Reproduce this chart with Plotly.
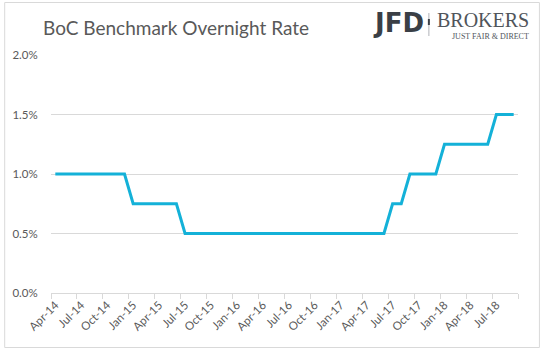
import plotly.graph_objects as go

# ---- data ----
categories = [
    "Apr-14", "May-14", "Jun-14", "Jul-14", "Aug-14", "Sep-14", "Oct-14", "Nov-14", "Dec-14",
    "Jan-15", "Feb-15", "Mar-15", "Apr-15", "May-15", "Jun-15", "Jul-15", "Aug-15", "Sep-15",
    "Oct-15", "Nov-15", "Dec-15", "Jan-16", "Feb-16", "Mar-16", "Apr-16", "May-16", "Jun-16",
    "Jul-16", "Aug-16", "Sep-16", "Oct-16", "Nov-16", "Dec-16", "Jan-17", "Feb-17", "Mar-17",
    "Apr-17", "May-17", "Jun-17", "Jul-17", "Aug-17", "Sep-17", "Oct-17", "Nov-17", "Dec-17",
    "Jan-18", "Feb-18", "Mar-18", "Apr-18", "May-18", "Jun-18", "Jul-18", "Aug-18", "Sep-18",
]

rate = (
    [1.00] * 9      # Apr-14 .. Dec-14
    + [0.75] * 6    # Jan-15 .. Jun-15
    + [0.50] * 24   # Jul-15 .. Jun-17
    + [0.75] * 2    # Jul-17 .. Aug-17
    + [1.00] * 4    # Sep-17 .. Dec-17
    + [1.25] * 6    # Jan-18 .. Jun-18
    + [1.50] * 3    # Jul-18 .. Sep-18
)
tick_labels = categories[::3]
y_ticks = [0.0, 0.5, 1.0, 1.5, 2.0]
y_tick_labels = ["0.0%", "0.5%", "1.0%", "1.5%", "2.0%"]

title_text = "BoC Benchmark Overnight Rate"

# ---- layout constants ----
W, H = 543, 351
L, R, T, B = 49, 25, 55, 58
pw, ph = W - L - R, H - T - B

def px(xp):
    return (xp - L) / pw

def py(yp):
    return (H - B - yp) / ph

TXT = "#595959"
GRID = "#D9D9D9"
FONT = "Lato"

idx = list(range(len(categories)))

fig = go.Figure()
fig.add_trace(go.Scatter(
    x=idx, y=rate, mode="lines",
    line=dict(color="#14B1D8", width=3),
    hoverinfo="skip", showlegend=False,
))
# invisible trace to carry boundary tick marks on overlay axis
fig.add_trace(go.Scatter(x=[idx[0]], y=[rate[0]], xaxis="x2", mode="markers",
                         marker=dict(opacity=0), showlegend=False, hoverinfo="skip"))

fig.update_layout(
    width=W, height=H,
    margin=dict(l=L, r=R, t=T, b=B),
    paper_bgcolor="white", plot_bgcolor="white",
    title=dict(text=title_text, x=43 / W, xanchor="left", y=1 - 28 / H, yanchor="middle",
               font=dict(family=FONT, size=19, color=TXT)),
    xaxis=dict(
        range=[-0.5, len(categories) - 0.5],
        tickmode="array", tickvals=idx[::3], ticktext=tick_labels,
        tickangle=-45, ticks="", showgrid=False, zeroline=False,
        showline=True, linecolor=GRID, linewidth=1,
        tickfont=dict(family=FONT, size=11.5, color=TXT),
    ),
    xaxis2=dict(
        overlaying="x", side="bottom",
        range=[-0.5, len(categories) - 0.5],
        tickmode="array", tickvals=[i - 0.5 for i in range(0, len(categories) + 1, 3)],
        ticks="outside", ticklen=5, tickcolor=GRID, tickwidth=1,
        showticklabels=False, showgrid=False, zeroline=False, showline=False,
    ),
    yaxis=dict(
        range=[0, 2.0], tickmode="array", tickvals=y_ticks, ticktext=y_tick_labels,
        showgrid=True, gridcolor=GRID, gridwidth=1, zeroline=False,
        showline=False, ticks="outside", ticklen=10, tickcolor="rgba(0,0,0,0)",
        tickfont=dict(family=FONT, size=11.5, color=TXT),
    ),
    shapes=[
        dict(type="rect", xref="paper", yref="paper",
             x0=px(2.5), x1=px(539.5), y0=py(347.5), y1=py(2.5),
             line=dict(color=GRID, width=1), layer="below"),
        dict(type="line", xref="paper", yref="paper",
             x0=px(428.5), x1=px(428.5), y0=py(36), y1=py(13),
             line=dict(color="#B0B3B8", width=1)),
        dict(type="line", xref="paper", yref="paper",
             x0=px(428.5), x1=px(428.5), y0=py(25), y1=py(19),
             line=dict(color="#3D4249", width=2)),
    ],
    annotations=[
        dict(text="<b>JFD</b>", xref="paper", yref="paper", x=px(370), y=py(23),
             xanchor="left", yanchor="middle", showarrow=False,
             font=dict(family="DejaVu Sans", size=26, color="#3A3F46")),
        dict(text="BROKERS", xref="paper", yref="paper", x=px(531), y=py(20),
             xanchor="right", yanchor="middle", showarrow=False,
             font=dict(family="Liberation Serif", size=20, color="#50555B")),
        dict(text="JUST FAIR &amp; DIRECT", xref="paper", yref="paper", x=px(531), y=py(36.5),
             xanchor="right", yanchor="middle", showarrow=False,
             font=dict(family="Liberation Serif", size=8, color="#50555B")),
    ],
)

fig.write_html("out.html")
